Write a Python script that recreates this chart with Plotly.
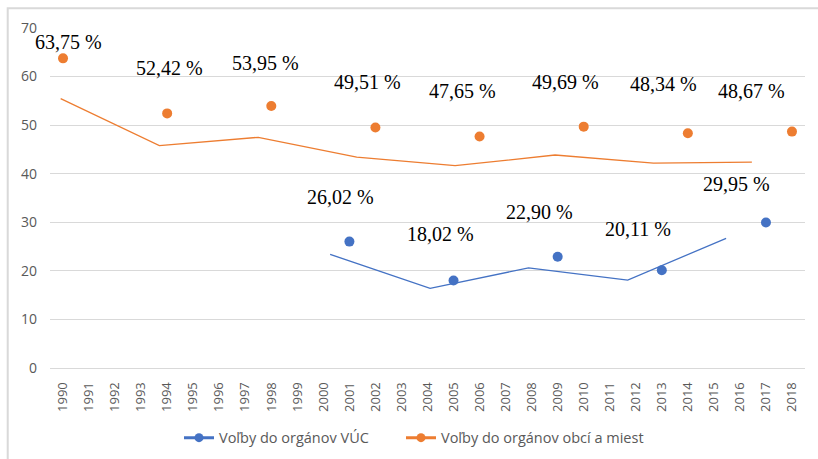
import plotly.graph_objects as go

# ---- data ----
years = list(range(1990, 2019))
obce_years = [1990, 1994, 1998, 2002, 2006, 2010, 2014, 2018]
obce_values = [63.75, 52.42, 53.95, 49.51, 47.65, 49.69, 48.34, 48.67]
vuc_years = [2001, 2005, 2009, 2013, 2017]
vuc_values = [26.02, 18.02, 22.90, 20.11, 29.95]
# trend lines (as drawn, positions along the year axis)
obce_trend_x = [1989.91, 1993.70, 1997.50, 2001.28, 2005.06, 2008.90, 2012.68, 2016.46]
obce_trend_y = [55.46, 45.8, 47.5, 43.4, 41.65, 43.85, 42.2, 42.4]
vuc_trend_x = [2000.26, 2004.10, 2007.88, 2011.69, 2015.47]
vuc_trend_y = [23.4, 16.4, 20.6, 18.1, 26.7]
name_vuc = "Voľby do orgánov VÚC"
name_obce = "Voľby do orgánov obcí a miest"

# ---- style ----
ORANGE = "#ED7D31"
BLUE = "#4472C4"
GRID = "#D9D9D9"
TICK = "#595959"
obce_offsets = [(5, -16), (2, -45), (-6, -43), (-8, -46), (-17, -46), (-18, -45), (-24, -49), (-40, -41)]
vuc_offsets = [(-9, -45), (-13, -46), (-18, -45), (-24, -41), (-29, -39)]

def fmt(v):
    return f"{v:.2f} %".replace(".", ",")

fig = go.Figure()
fig.add_trace(go.Scatter(x=obce_trend_x, y=obce_trend_y, mode="lines",
                         line=dict(color=ORANGE, width=1.3), showlegend=False, hoverinfo="skip"))
fig.add_trace(go.Scatter(x=vuc_trend_x, y=vuc_trend_y, mode="lines",
                         line=dict(color=BLUE, width=1.3), showlegend=False, hoverinfo="skip"))
fig.add_trace(go.Scatter(x=obce_years, y=obce_values, mode="markers",
                         marker=dict(color=ORANGE, size=10), showlegend=False))
fig.add_trace(go.Scatter(x=vuc_years, y=vuc_values, mode="markers",
                         marker=dict(color=BLUE, size=10), showlegend=False))
# legend entries
fig.add_trace(go.Scatter(x=[None], y=[None], mode="lines+markers", name=name_vuc, legend="legend",
                         line=dict(color=BLUE, width=3), marker=dict(color=BLUE, size=9)))
fig.add_trace(go.Scatter(x=[None], y=[None], mode="lines+markers", name=name_obce, legend="legend2",
                         line=dict(color=ORANGE, width=3), marker=dict(color=ORANGE, size=9)))

annotations = []
for xs, vs, offs in [(obce_years, obce_values, obce_offsets), (vuc_years, vuc_values, vuc_offsets)]:
    for x, v, (dx, dy) in zip(xs, vs, offs):
        annotations.append(dict(x=x, y=v, text=fmt(v), showarrow=False,
                                xshift=dx, yshift=-dy, xanchor="center", yanchor="middle",
                                font=dict(family="Liberation Serif", size=20, color="black")))

leg_common = dict(orientation="h", xanchor="left", y=-0.205, yanchor="middle",
                  font=dict(size=14.5, color=TICK), bgcolor="rgba(0,0,0,0)")
fig.update_layout(
    width=818, height=459,
    margin=dict(l=50, r=13, t=28, b=91, autoexpand=False),
    paper_bgcolor="white", plot_bgcolor="white",
    font=dict(family="Open Sans", color=TICK, size=12),
    annotations=annotations,
    legend=dict(x=(188 - 50 - 9) / 755, **leg_common),
    legend2=dict(x=(410 - 50 - 9) / 755, **leg_common),
    shapes=[dict(type="rect", xref="paper", yref="paper", x0=-0.056, x1=1.03, y0=-0.3, y1=1.058,
                 line=dict(color=GRID, width=2), fillcolor="rgba(0,0,0,0)", layer="below")],
)
fig.update_xaxes(range=[1989.5, 2018.5], tickmode="array", tickvals=years,
                 ticktext=[str(y) for y in years], tickangle=-90, showgrid=False,
                 showline=True, linecolor=GRID, linewidth=1, zeroline=False, automargin=False,
                 ticklabelstandoff=8, tickfont=dict(size=13, color=TICK))
fig.update_yaxes(range=[0, 70], tickvals=[0, 10, 20, 30, 40, 50, 60, 70],
                 showgrid=True, gridcolor=GRID, gridwidth=1, zeroline=False, automargin=False,
                 showline=False, ticklabelstandoff=12, tickfont=dict(size=14, color=TICK))

fig.write_html("out.html", config={"displayModeBar": False},
               post_script="document.body.style.margin='0px';document.body.style.overflow='hidden';")
